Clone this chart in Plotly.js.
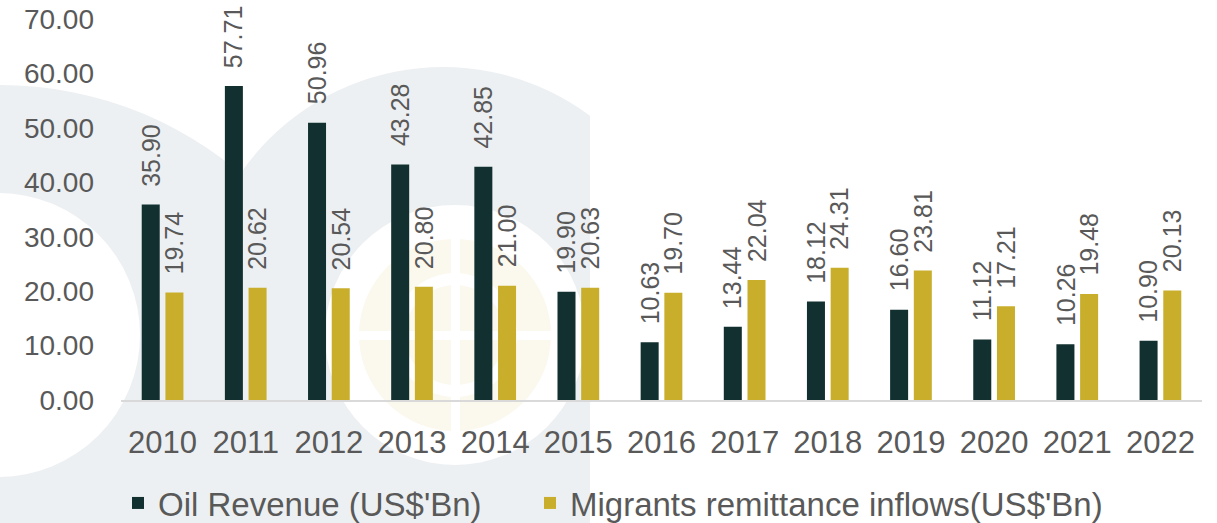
<!DOCTYPE html>
<html>
<head>
<meta charset="utf-8">
<script src="https://cdn.plot.ly/plotly-3.0.1.min.js"></script>
<style>html,body{margin:0;padding:0;background:#fff;}#chart{width:1217px;height:523px;}</style>
</head>
<body>
<div id="chart"></div>
<script>
const years = ['2010','2011','2012','2013','2014','2015','2016','2017','2018','2019','2020','2021','2022'];
const oilRevenue = [35.90, 57.71, 50.96, 43.28, 42.85, 19.90, 10.63, 13.44, 18.12, 16.60, 11.12, 10.26, 10.90];
const remittances = [19.74, 20.62, 20.54, 20.80, 21.00, 20.63, 19.70, 22.04, 24.31, 23.81, 17.21, 19.48, 20.13];
const seriesNames = ["Oil Revenue (US$'Bn)", "Migrants remittance inflows(US$'Bn)"];
const yTicks = [0, 10, 20, 30, 40, 50, 60, 70];

const W = 1217, H = 523;
const M = {l: 121, r: 15, t: 19, b: 123, autoexpand: false};
const PW = W - M.l - M.r, PH = H - M.t - M.b;
const BARGAP = 0.43, BARGROUPGAP = 0.24;
const slot = (1 - BARGAP) / 2;
const textColor = '#595959';
const FONT = '"Liberation Sans", Arial, sans-serif';

// pixel -> paper helpers for the background watermark
const px = x => (x - M.l) / PW;
const py = y => (M.t + PH - y) / PH;
function circ(cx, cy, r, color) {
  return {type: 'circle', xref: 'paper', yref: 'paper', layer: 'below',
    x0: px(cx - r), x1: px(cx + r), y0: py(cy + r), y1: py(cy - r),
    fillcolor: color, line: {width: 0}};
}
function rect(x0, y0, x1, y1, color) {
  return {type: 'rect', xref: 'paper', yref: 'paper', layer: 'below',
    x0: px(x0), x1: px(x1), y0: py(y1), y1: py(y0),
    fillcolor: color, line: {width: 0}};
}
const GRAY = '#edf0f2', GOLDW = '#fbf8ee';
const shapes = [
  circ(443, 313, 246, GRAY),
  rect(197, 313, 590, 523, GRAY),
  rect(590, 0, 1217, 523, '#ffffff'),
  circ(0, 457, 372, GRAY),
  circ(-2, 335, 142, '#ffffff'),
  circ(455, 335, 130, '#ffffff'),
  circ(455, 335, 96, GOLDW),
  circ(455, 335, 62, '#ffffff'),
  circ(455, 335, 50, GOLDW),
  rect(359, 331, 551, 340, '#ffffff'),
  rect(451, 239, 460, 431, '#ffffff')
];

const traces = [
  {type: 'bar', name: seriesNames[0], x: years, y: oilRevenue,
   marker: {color: '#12302f'}, legend: 'legend'},
  {type: 'bar', name: seriesNames[1], x: years, y: remittances,
   marker: {color: '#c8ae2b'}, legend: 'legend2'}
];

const annotations = [];
[oilRevenue, remittances].forEach((vals, si) => {
  const off = (si === 0 ? -1 : 1) * slot / 2;
  vals.forEach((v, i) => {
    annotations.push({
      x: i + off, y: v, xref: 'x', yref: 'y',
      text: v.toFixed(2), showarrow: false, textangle: -90,
      xanchor: 'center', yanchor: 'bottom', yshift: 16,
      font: {family: FONT, size: 25, color: textColor}
    });
  });
});

const legendFont = {family: FONT, size: 33, color: textColor};
const layout = {
  width: W, height: H,
  margin: M,
  paper_bgcolor: '#ffffff',
  plot_bgcolor: 'rgba(0,0,0,0)',
  barmode: 'group',
  bargap: BARGAP,
  bargroupgap: BARGROUPGAP,
  showlegend: true,
  font: {family: FONT, color: textColor},
  xaxis: {
    type: 'category',
    showline: true, linecolor: '#d9d9d9', linewidth: 2,
    showgrid: false, zeroline: false, ticks: '',
    ticklabelstandoff: 14,
    tickfont: {family: FONT, size: 31, color: textColor}
  },
  yaxis: {
    range: [0, 70], tickvals: yTicks, tickformat: '.2f',
    showgrid: false, zeroline: false, showline: false, ticks: '',
    ticklabelstandoff: 26,
    tickfont: {family: FONT, size: 28, color: textColor}
  },
  legend: {
    orientation: 'h', x: px(118), xanchor: 'left', y: py(503), yanchor: 'middle',
    font: legendFont, bgcolor: 'rgba(0,0,0,0)'
  },
  legend2: {
    orientation: 'h', x: px(530), xanchor: 'left', y: py(503), yanchor: 'middle',
    font: legendFont, bgcolor: 'rgba(0,0,0,0)'
  },
  shapes: shapes,
  annotations: annotations
};

Plotly.newPlot('chart', traces, layout, {displayModeBar: false, staticPlot: true});
</script>
</body>
</html>
